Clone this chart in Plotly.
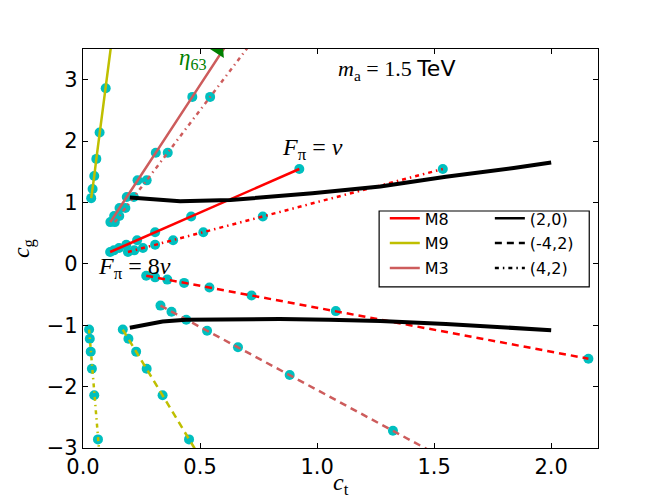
import plotly.graph_objects as go

# values (c_t, c_g), one pair of lists per curve
# M8 benchmark
m8_pos_cg = [0.193, 0.22, 0.257, 0.31, 0.385, 0.515, 0.77, 1.545]
m8_neg_cg = [-0.193, -0.22, -0.257, -0.31, -0.385, -0.515, -0.77, -1.545]
m8_20_ct = [0.116, 0.132, 0.154, 0.185, 0.231, 0.308, 0.462, 0.924]
m8_m42_ct = [0.27, 0.308, 0.36, 0.432, 0.54, 0.72, 1.08, 2.159]
m8_42_ct = [0.192, 0.219, 0.256, 0.308, 0.385, 0.514, 0.768, 1.537]

# M9 benchmark (last point lies outside the plotted range)
m9_pos_cg = [1.07, 1.22, 1.43, 1.71, 2.14, 2.86, 4.29]
m9_neg_cg = [-1.07, -1.22, -1.43, -1.71, -2.14, -2.86, -4.29]
m9_20_ct = [0.035, 0.041, 0.048, 0.057, 0.071, 0.097, 0.145]
m9_m42_ct = [0.17, 0.194, 0.227, 0.272, 0.34, 0.453, 0.68]
m9_42_ct = [0.026, 0.029, 0.033, 0.038, 0.048, 0.064, 0.096]

# M3 benchmark (last point lies outside the plotted range)
m3_pos_cg = [0.68, 0.78, 0.91, 1.09, 1.36, 1.81, 2.72, 5.44]
m3_neg_cg = [-0.68, -0.78, -0.91, -1.09, -1.36, -1.81, -2.72, -5.44]
m3_20_ct = [0.117, 0.133, 0.156, 0.187, 0.233, 0.311, 0.467, 0.934]
m3_m42_ct = [0.331, 0.378, 0.441, 0.53, 0.662, 0.883, 1.324, 2.648]
m3_42_ct = [0.136, 0.155, 0.181, 0.217, 0.272, 0.362, 0.543, 1.086]

# thick black boundary curves
upper_ct = [0.2, 0.3, 0.415, 0.63, 0.98, 1.27, 1.55, 1.84, 2.0]
upper_cg = [1.08, 1.05, 1.02, 1.04, 1.15, 1.26, 1.42, 1.56, 1.65]
lower_ct = [0.2, 0.34, 0.44, 0.63, 0.84, 1.05, 1.27, 1.55, 1.8, 2.0]
lower_cg = [-1.04, -0.94, -0.91, -0.90, -0.90, -0.91, -0.93, -0.98, -1.03, -1.08]

RED = "#ff0000"
YEL = "#bfbf00"
IRED = "#cd5c5c"
CYAN = "#00bfbf"
DASH = {"(2,0)": "solid", "(-4,2)": "7px,5px", "(4,2)": "4px,4px,1.5px,4px"}

curves = [
    (m8_20_ct, m8_pos_cg, RED, "(2,0)"),
    (m8_m42_ct, m8_neg_cg, RED, "(-4,2)"),
    (m8_42_ct, m8_pos_cg, RED, "(4,2)"),
    (m9_20_ct, m9_pos_cg, YEL, "(2,0)"),
    (m9_m42_ct, m9_neg_cg, YEL, "(-4,2)"),
    (m9_42_ct, m9_neg_cg, YEL, "(4,2)"),
    (m3_20_ct, m3_pos_cg, IRED, "(2,0)"),
    (m3_m42_ct, m3_neg_cg, IRED, "(-4,2)"),
    (m3_42_ct, m3_pos_cg, IRED, "(4,2)"),
]

fig = go.Figure()

# cyan points first, the lines go over them
for ct, cg, col, st in curves:
    fig.add_trace(go.Scatter(x=ct, y=cg, mode="markers", showlegend=False,
                             marker=dict(color=CYAN, size=10, line=dict(width=0))))
for ct, cg, col, st in curves:
    fig.add_trace(go.Scatter(x=ct, y=cg, mode="lines", showlegend=False,
                             line=dict(color=col, width=2.5, dash=DASH[st])))

for ct, cg in [(upper_ct, upper_cg), (lower_ct, lower_cg)]:
    fig.add_trace(go.Scatter(x=ct, y=cg, mode="lines", showlegend=False,
                             line=dict(color="black", width=4)))

# eta_63 arrow head, cut by the top of the frame
fig.add_trace(go.Scatter(x=[0.578], y=[3.49], mode="markers", showlegend=False,
                         cliponaxis=True,
                         marker=dict(symbol="triangle-up", angle=33, size=16,
                                     color="#008000")))

# legend entries
for name, col in [("M8", RED), ("M9", YEL), ("M3", IRED)]:
    fig.add_trace(go.Scatter(x=[None], y=[None], mode="lines", name=name,
                             legend="legend", legendgroup=name,
                             line=dict(color=col, width=2.5)))
for st in ["(2,0)", "(-4,2)", "(4,2)"]:
    fig.add_trace(go.Scatter(x=[None], y=[None], mode="lines", name=st,
                             legend="legend2", legendgroup=st,
                             line=dict(color="black", width=2.5, dash=DASH[st])))

serif = "Liberation Serif"
fig.add_annotation(x=1.34, y=3.16, showarrow=False,
                   text="<i>m</i><sub>a</sub> = 1.5 <span style='font-family:DejaVu Sans'>TeV</span>",
                   font=dict(family=serif, size=22, color="black"))
fig.add_annotation(x=0.98, y=1.87, showarrow=False,
                   text="<i>F</i><sub>π</sub> = <i>v</i>",
                   font=dict(family=serif, size=24, color="black"))
fig.add_annotation(x=0.055, y=-0.07, xanchor="left", showarrow=False,
                   text="<i>F</i><sub>π</sub> = 8<i>v</i>",
                   font=dict(family=serif, size=24, color="black"))
fig.add_annotation(x=0.47, y=3.33, showarrow=False,
                   text="<i>η</i><sub>63</sub>",
                   font=dict(family=serif, size=23, color="#008000"))
# x axis title, placed by hand under the tick labels
fig.add_annotation(xref="paper", yref="paper", x=0.5, y=-0.09, yanchor="middle",
                   showarrow=False, text="<i>c</i><sub>t</sub>",
                   font=dict(family=serif, size=24, color="black"))

# legend frame
fig.add_shape(type="rect", xref="paper", yref="paper",
              x0=0.575, x1=0.983, y0=0.404, y1=0.594,
              line=dict(color="black", width=1.2), fillcolor="white", layer="above")

axis = dict(showline=True, mirror="ticks", linecolor="black", linewidth=1.2,
            ticks="inside", ticklen=5, tickcolor="black", showgrid=False,
            zeroline=False, automargin=False,
            tickfont=dict(family="DejaVu Sans", size=21, color="black"))
legend_style = dict(xanchor="left", yanchor="top", bgcolor="rgba(0,0,0,0)",
                    borderwidth=0, traceorder="grouped", tracegroupgap=1,
                    font=dict(family="DejaVu Sans", size=16, color="black"))

# the page body shifts the figure by 8px, so the figure is 8px smaller
fig.update_layout(
    width=656, height=490,
    margin=dict(l=75, r=66, t=41, b=50),
    plot_bgcolor="white", paper_bgcolor="white",
    xaxis=dict(axis, range=[0, 2.2], dtick=0.5, tickformat=".1f"),
    yaxis=dict(axis, range=[-3, 3.5], dtick=1,
               title=dict(text="<i>c</i><sub>g</sub>", standoff=18,
                          font=dict(family=serif, size=24, color="black"))),
    legend=dict(legend_style, x=0.586, y=0.618),
    legend2=dict(legend_style, x=0.79, y=0.618),
)

fig.write_html("out.html")
